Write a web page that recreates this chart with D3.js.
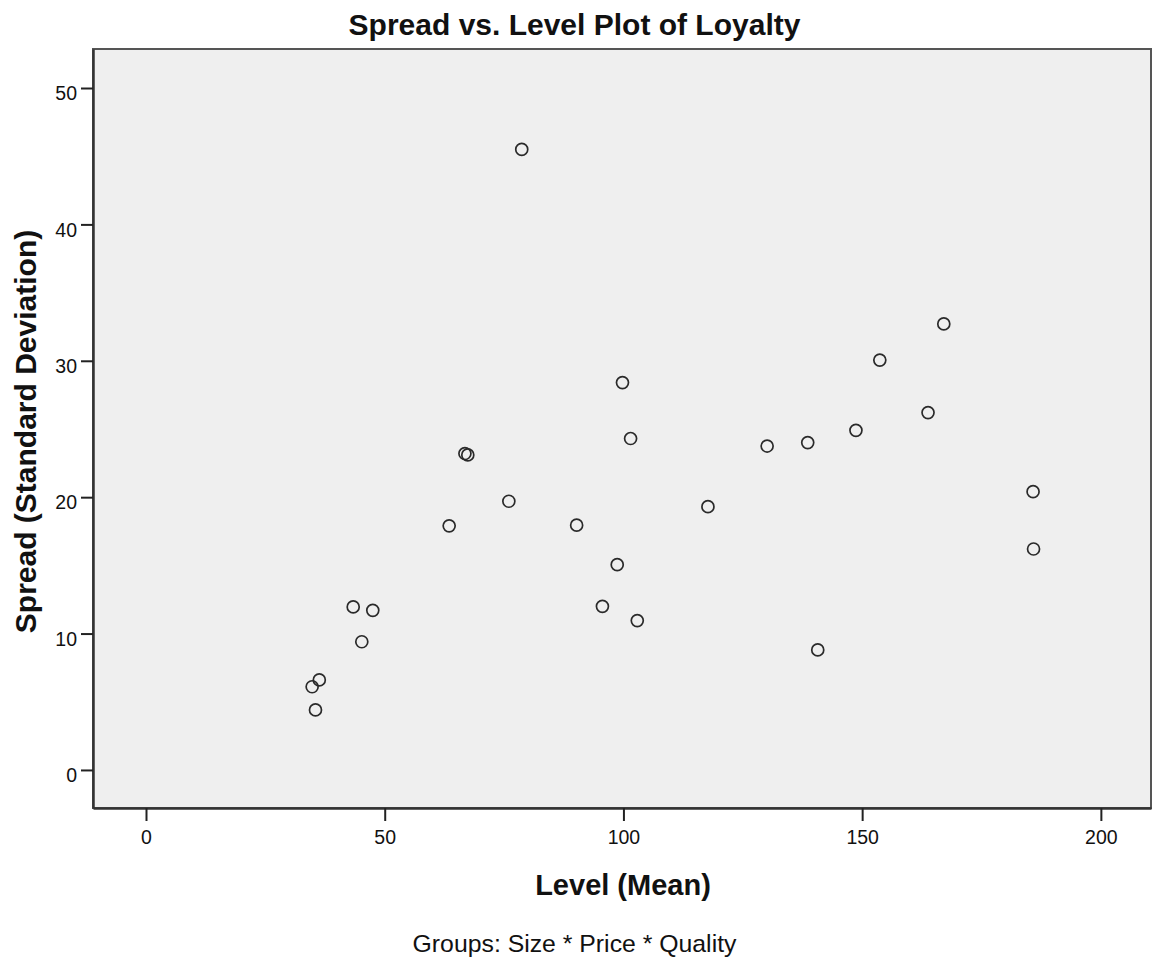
<!DOCTYPE html>
<html>
<head>
<meta charset="utf-8">
<script src="https://cdn.jsdelivr.net/npm/d3@7"></script>
<style>
  body { margin: 0; background: #fff; }
  text { font-family: "Liberation Sans", Arial, sans-serif; fill: #111; }
</style>
</head>
<body>
<svg id="chart" width="1153" height="965"></svg>
<script>
// Level (mean) and spread (SD) of Loyalty for each Size * Price * Quality group
const levelMean = [78.7, 167.1, 153.7, 99.8, 163.8, 148.7, 101.5, 138.6, 130.1, 66.8, 67.4,
  76.0, 63.5, 90.2, 117.7, 185.8, 185.9, 98.7, 95.6, 102.9, 43.4, 47.5, 45.2, 140.7, 36.3, 34.8, 35.5];
const spreadSD = [45.5, 32.7, 30.05, 28.4, 26.2, 24.9, 24.3, 24.0, 23.75, 23.2, 23.1,
  19.7, 17.9, 17.95, 19.3, 20.4, 16.2, 15.05, 12.0, 10.95, 11.95, 11.7, 9.4, 8.8, 6.6, 6.1, 4.4];
const xTicks = [0, 50, 100, 150, 200];
const yTicks = [0, 10, 20, 30, 40, 50];

const width = 1153, height = 965;
const plot = { left: 93, top: 49, right: 1151, bottom: 808 };

const svg = d3.select('#chart');

const x = d3.scaleLinear().domain([-11.1, 210.5]).range([plot.left, plot.right]);
const y = d3.scaleLinear().domain([-2.79, 52.86]).range([plot.bottom, plot.top]);

// plot frame
svg.append('rect')
  .attr('x', plot.left).attr('y', plot.top)
  .attr('width', plot.right - plot.left).attr('height', plot.bottom - plot.top)
  .attr('fill', '#efefef')
  .attr('stroke', '#555')
  .attr('stroke-width', 2);

const data = levelMean.map((v, i) => ({ level: v, spread: spreadSD[i] }));

svg.append('g')
  .selectAll('circle')
  .data(data)
  .join('circle')
  .attr('cx', d => x(d.level))
  .attr('cy', d => y(d.spread))
  .attr('r', 6)
  .attr('fill', 'none')
  .attr('stroke', '#2a2a2a')
  .attr('stroke-width', 1.7);

// axes
const xAxis = svg.append('g')
  .attr('transform', `translate(0,${plot.bottom})`)
  .call(d3.axisBottom(x).tickValues(xTicks).tickSize(13).tickPadding(9).tickSizeOuter(0));
const yAxis = svg.append('g')
  .attr('transform', `translate(${plot.left},0)`)
  .call(d3.axisLeft(y).tickValues(yTicks).tickSize(12).tickPadding(4).tickSizeOuter(0));

[xAxis, yAxis].forEach(g => {
  g.select('.domain').attr('stroke', '#333').attr('stroke-width', 2.5);
  g.selectAll('.tick line').attr('stroke', '#222').attr('stroke-width', 2);
  g.selectAll('.tick text')
    .attr('font-family', '"Liberation Sans", Arial, sans-serif')
    .attr('font-size', 19.5)
    .attr('fill', '#222');
});
yAxis.selectAll('.tick text').attr('dy', '0.6em');

// titles
svg.append('text')
  .attr('x', width / 2 - 2).attr('y', 35)
  .attr('text-anchor', 'middle')
  .attr('font-size', 30).attr('font-weight', 'bold')
  .text('Spread vs. Level Plot of Loyalty');

svg.append('text')
  .attr('x', (plot.left + plot.right) / 2 + 1).attr('y', 895)
  .attr('text-anchor', 'middle')
  .attr('font-size', 29).attr('font-weight', 'bold')
  .text('Level (Mean)');

svg.append('text')
  .attr('transform', `translate(36,${(plot.top + plot.bottom) / 2 + 3}) rotate(-90)`)
  .attr('text-anchor', 'middle')
  .attr('font-size', 30).attr('font-weight', 'bold')
  .text('Spread (Standard Deviation)');

svg.append('text')
  .attr('x', width / 2 - 2).attr('y', 952)
  .attr('text-anchor', 'middle')
  .attr('font-size', 24.8)
  .text('Groups: Size * Price * Quality');
</script>
</body>
</html>
